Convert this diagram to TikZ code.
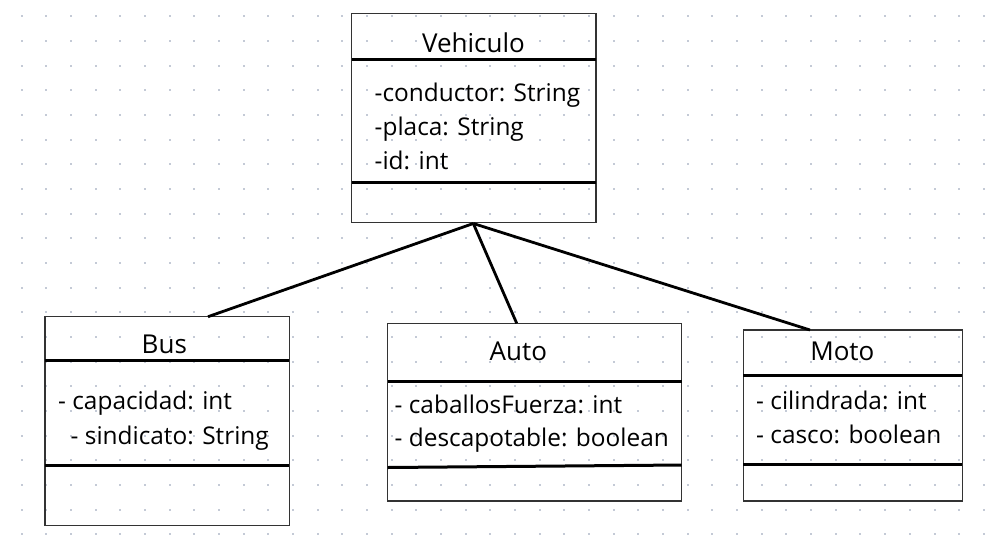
\documentclass[tikz,border=0pt]{standalone}
\usepackage{fontspec}
\setmainfont{Open Sans}
\definecolor{dotc}{HTML}{C4CAD6}
\definecolor{boxc}{HTML}{333333}
\begin{document}
\begin{tikzpicture}[x=1pt,y=-1pt,
  boxline/.style={draw=boxc,line width=1.3pt},
  sepline/.style={draw=black,line width=3pt},
  conn/.style={draw=black,line width=2.8pt},
  title/.style={font=\fontsize{26}{26}\selectfont,inner sep=0pt,anchor=base},
  attr/.style={font=\fontsize{24.4}{24.4}\selectfont,inner sep=0pt,anchor=base west}]
\useasboundingbox (0,0) rectangle (987,557);
\fill[white] (0,0) rectangle (987,557);
\foreach \i in {0,...,39}{
  \foreach \j in {0,...,21}{
    \fill[dotc] ({21.7+24.67*\i-1},{16.3+24.67*\j-1}) rectangle ++(2,2);
  }
}
% Vehiculo
\draw[boxline] (351.7,13.3) rectangle (596,222.3);
\draw[sepline] (351.7,59.3) -- (596,59.3);
\draw[sepline] (351.7,182.7) -- (596,182.7);
\node[title] (vt) at (473.5,52.5) {Vehiculo};
\node[attr] (va1) at (374.5,101.5) {-conductor: String};
\node[attr] (va2) at (374.5,135.5) {-placa: String};
\node[attr] (va3) at (374.5,169.5) {-id: int};
\coordinate (apex) at (473.3,223.5);
% Bus
\draw[boxline] (45,316.7) rectangle (289.3,525.7);
\draw[sepline] (45,360.7) -- (289.3,360.7);
\draw[sepline] (45,465) -- (289.3,465);
\node[title] (bt) at (164.3,353.5) {Bus};
\node[attr] (ba1) at (58,409.5) {- capacidad: int};
\node[attr] (ba2) at (70.5,444) {- sindicato: String};
\coordinate (bustop) at (208,316.7);
% Auto
\draw[boxline] (387.7,323.3) rectangle (681.7,501);
\draw[sepline] (387.7,467.5) -- (681.7,465);
\draw[sepline] (387.7,381.7) -- (681.7,381.7);
\node[title] (at) at (518.3,360.5) {Auto};
\node[attr] (aa1) at (394.5,413.5) {- caballosFuerza: int};
\node[attr] (aa2) at (394.5,446.5) {- descapotable: boolean};
\coordinate (autotop) at (516.7,323.3);
% Moto
\draw[boxline] (743.3,330) rectangle (962.3,501);
\draw[sepline] (743.3,375) -- (962.3,375);
\draw[sepline] (743.3,464) -- (962.3,464);
\node[title] (mt) at (842.3,360.5) {Moto};
\node[attr] (ma1) at (756,409.5) {- cilindrada: int};
\node[attr] (ma2) at (756,443.5) {- casco: boolean};
\coordinate (mototop) at (810,330);
% connectors
\draw[conn] (apex) -- (bustop);
\draw[conn] (apex) -- (autotop);
\draw[conn] (apex) -- (mototop);
\end{tikzpicture}
\end{document}
